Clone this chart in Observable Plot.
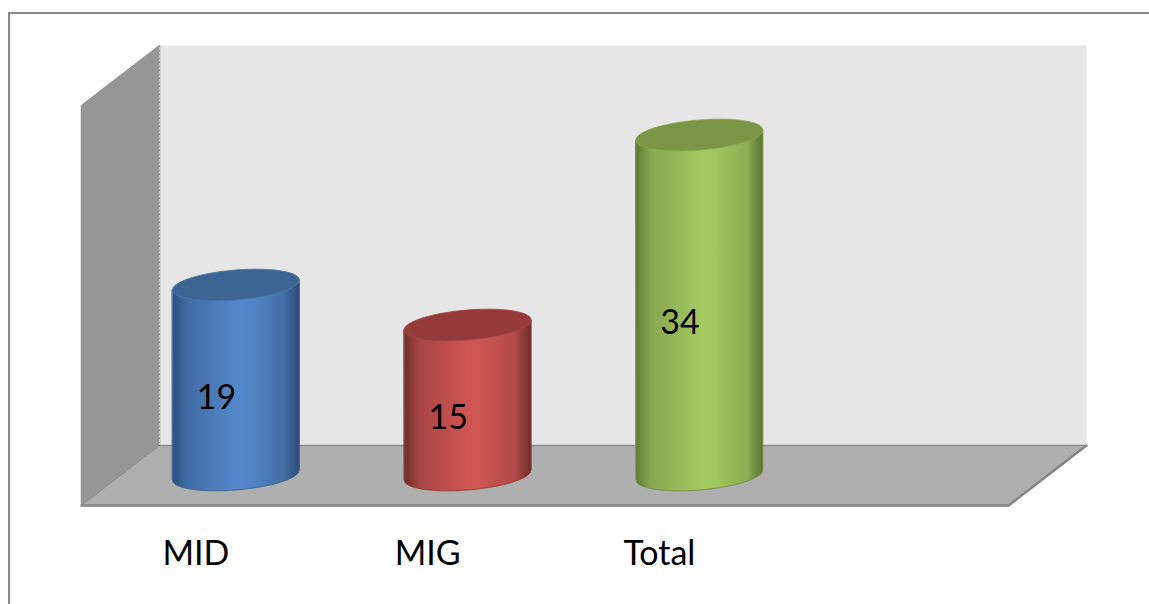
<!DOCTYPE html>
<html>
<head>
<meta charset="utf-8">
<script src="https://cdn.jsdelivr.net/npm/d3@7"></script>
<script src="https://cdn.jsdelivr.net/npm/@observablehq/plot@0.6"></script>
<style>
  html, body { margin: 0; padding: 0; background: #fff; }
  #chart { position: relative; width: 1149px; height: 604px; overflow: hidden; }
  #border { position: absolute; left: 8px; top: 12px; width: 1160px; height: 620px; border: 2px solid #8a8a8a; box-sizing: border-box; }
  #chart svg { position: absolute; left: 0; top: 0; background: transparent; }
</style>
</head>
<body>
<div id="chart"><div id="border"></div></div>
<script>
const categories = ["MID", "MIG", "Total"];
const values = [19, 15, 34];
const bodyStops = [
  ["#2c5080", "#3f6ca3", "#4a7ab8", "#5288cb", "#5086c8", "#416ea5", "#2b4a74"],
  ["#6e2f2d", "#a84644", "#bd4e4b", "#cf5552", "#cc5451", "#b04a47", "#682c2a"],
  ["#5f7a38", "#87a850", "#95b858", "#a4c961", "#a2c760", "#8bac52", "#5a7435"]
];
const stopOffsets = [0, 0.12, 0.32, 0.5, 0.62, 0.88, 1];
const capFills = ["#3d6593", "#943a38", "#7b9445"];
const capEdges = ["#4a78ad", "#a84644", "#8aa650"];

// Oblique projection of the 3-D box: four category slots wide, one deep, 0-40 tall.
const slotCount = 4;
const maxValue = 40;
const depthX = 78 / 231.75;
const depthY = 6;
const project = (slot, depth, value) => ({x: slot + depth * depthX, y: value + depth * depthY});

const radius = 0.274;
const tilt = 0.5;
const capHeight = 1.5;
const steps = d3.range(0, 121).map((i) => -1 + i / 60);

function disc(slot, value) {
  const c = project(slot + 0.5, 0.5, value);
  return steps.map((u) => {
    const lean = tilt * u;
    const h = capHeight * Math.sqrt(Math.max(0, 1 - u * u));
    return {x: c.x + radius * u, upper: c.y + lean + h, lower: c.y + lean - h, mid: c.y + lean};
  });
}

const wall = (pts) => pts.map(([s, d, v]) => project(s, d, v));
const backWall = wall([[0, 1, 0], [slotCount, 1, 0], [slotCount, 1, maxValue], [0, 1, maxValue]]);
const sideWall = wall([[0, 0, 0], [0, 1, 0], [0, 1, maxValue], [0, 0, maxValue]]);
const floor = wall([[0, 0, 0], [slotCount, 0, 0], [slotCount, 1, 0], [0, 1, 0]]);

const plane = (pts, fill, stroke = "none") => Plot.line([...pts, pts[0]], {x: "x", y: "y", fill, stroke, strokeWidth: 1.5});
const edge = (pts, stroke, strokeWidth, extra = {}) =>
  Plot.line(wall(pts), {x: "x", y: "y", stroke, strokeWidth, ...extra});

const gradients = () => {
  const defs = d3.create("svg:defs");
  bodyStops.forEach((stops, i) => {
    const g = defs.append("linearGradient").attr("id", `body${i}`).attr("x1", 0).attr("x2", 1).attr("y1", 0).attr("y2", 0);
    stopOffsets.forEach((o, j) => g.append("stop").attr("offset", o).attr("stop-color", stops[j]));
  });
  return defs.node();
};

const cylinders = categories.flatMap((_, i) => {
  const base = disc(i, 0);
  const top = disc(i, values[i]);
  const body = base.map((b, j) => ({x: b.x, y1: b.lower, y2: top[j].mid}));
  return [
    Plot.areaY(body, {x: "x", y1: "y1", y2: "y2", fill: `url(#body${i})`, stroke: capFills[i], strokeWidth: 1}),
    Plot.areaY(top, {x: "x", y1: "lower", y2: "upper", fill: capFills[i], stroke: capEdges[i], strokeWidth: 1})
  ];
});

const labels = categories.map((_, i) => ({...project(i + 0.5, 0.25, values[i] / 2), text: String(values[i])}));

const plot = Plot.plot({
  width: 1149,
  height: 604,
  marginLeft: 81,
  marginRight: 63,
  marginTop: 45,
  marginBottom: 99,
  style: {background: "transparent"},
  x: {domain: [0, slotCount + depthX], axis: null},
  y: {domain: [0, maxValue + depthY], axis: null},
  marks: [
    gradients,
    plane(backWall, "#e6e6e6"),
    plane(sideWall, "#969696", "#969696"),
    plane(floor, "#afafaf"),
    edge([[0, 1, 0], [0, 1, maxValue]], "#c8c8c8", 1, {strokeDasharray: "2 2"}),
    edge([[0, 0, 0], [0, 1, 0]], "#8e8e8e", 1),
    edge([[0, 1, 0], [slotCount, 1, 0]], "#8a8a8a", 1.5),
    edge([[0, 0, 0], [slotCount, 0, 0], [slotCount, 1, 0]], "#858585", 2.5),
    ...cylinders,
    Plot.text(labels, {x: "x", y: "y", dy: 3, dx: -0.5, text: "text", fontSize: 34, fontFamily: "Lato", fill: "#000"}),
    Plot.axisX(categories.map((_, i) => i + 0.5), {
      tickSize: 0,
      tickPadding: 35,
      dx: -1.5,
      tickFormat: (d) => categories[d - 0.5],
      fontSize: 34,
      fontFamily: "Lato",
      fill: "#000",
      label: null
    })
  ]
});
document.getElementById("chart").append(plot);
</script>
</body>
</html>
